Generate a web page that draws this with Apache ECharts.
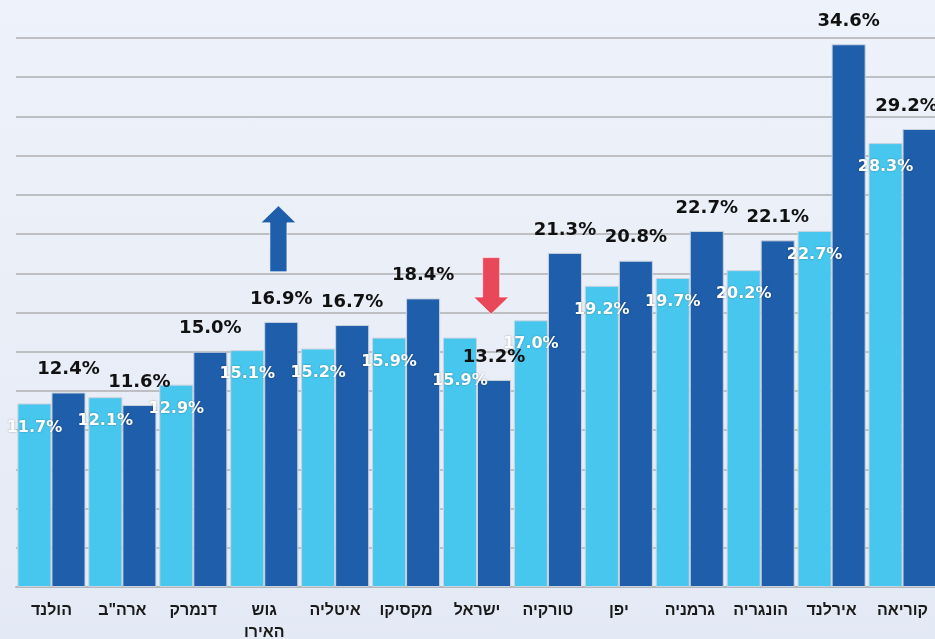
<!DOCTYPE html>
<html>
<head>
<meta charset="utf-8">
<script src="https://cdn.jsdelivr.net/npm/echarts@6/dist/echarts.min.js"></script>
<style>
  html, body { margin: 0; padding: 0; }
  body { background: linear-gradient(180deg, #eef2fa 0%, #e4eaf5 100%); }
  #chart { width: 935px; height: 639px; }
</style>
</head>
<body>
<div id="chart"></div>
<script>
const categories = ["הולנד", "ארה\"ב", "דנמרק", "גוש האירו", "איטליה", "מקסיקו", "ישראל", "טורקיה", "יפן", "גרמניה", "הונגריה", "אירלנד", "קוריאה"];
const lightValues = [11.7, 12.1, 12.9, 15.1, 15.2, 15.9, 15.9, 17.0, 19.2, 19.7, 20.2, 22.7, 28.3];
const darkValues = [12.4, 11.6, 15.0, 16.9, 16.7, 18.4, 13.2, 21.3, 20.8, 22.7, 22.1, 34.6, 29.2];

// annotation arrows: category index, value at tail, value at tip
const arrows = [
  { cat: 3, from: 20.1, to: 24.3, color: "#1f5eab" },
  { cat: 6, from: 21.0, to: 17.4, color: "#e8485a" },
];

const LIGHT = "#48c7ee";
const DARK = "#1f5eab";
const numFont = "'DejaVu Sans', Verdana, sans-serif";
const hebFont = "'Liberation Sans', Arial, sans-serif";

const el = document.getElementById("chart");
const chart = echarts.init(el, null, { renderer: "canvas" });

const option = {
  backgroundColor: "transparent",
  animation: false,
  grid: { left: 16, right: -3, top: 38, bottom: 52, outerBoundsMode: "none", containLabel: false },
  xAxis: {
    type: "category",
    data: categories,
    axisLine: { lineStyle: { color: "#b4b7bd", width: 2 } },
    axisTick: { show: false },
    axisLabel: {
      color: "#1a1a1a",
      fontFamily: hebFont,
      fontWeight: "bold",
      fontSize: 16,
      margin: 13,
      lineHeight: 22,
      interval: 0,
      overflow: "none",
      formatter: (v) => v.replace(" ", "\n"),
    },
  },
  yAxis: {
    type: "value",
    min: 0,
    max: 35,
    interval: 2.5,
    axisLabel: { show: false },
    axisLine: { show: false },
    axisTick: { show: false },
    splitLine: { lineStyle: { color: "#bdbfc3", width: 2 } },
  },
  series: [
    {
      type: "bar",
      data: lightValues.map((v, i) =>
        i === 6 ? { value: v, label: { offset: [0, 19] } } : v
      ),
      barGap: "0%",
      barCategoryGap: "4%",
      itemStyle: { color: LIGHT, borderColor: "#c9d3de", borderWidth: 1 },
      label: {
        show: true,
        position: "insideTop",
        distance: 16,
        color: "#ffffff",
        fontFamily: numFont,
        fontWeight: "bold",
        fontSize: 16,
        textShadowColor: "rgba(0,0,0,0.35)",
        textShadowBlur: 2,
        formatter: (p) => p.value.toFixed(1) + "%",
      },
      z: 2,
    },
    {
      type: "bar",
      data: darkValues.map((v, i) =>
        i === darkValues.length - 1 ? { value: v, label: { offset: [-13, 0] } } : v
      ),
      itemStyle: { color: DARK, borderColor: "#c9d3de", borderWidth: 1 },
      label: {
        show: true,
        position: "top",
        distance: 14,
        color: "#111111",
        fontFamily: numFont,
        fontWeight: "bold",
        fontSize: 18,
        formatter: (p) => p.value.toFixed(1) + "%",
      },
      z: 2,
    },
  ],
};

chart.setOption(option);

function arrowShape(a) {
  const c0 = chart.convertToPixel({ xAxisIndex: 0 }, 0);
  const c1 = chart.convertToPixel({ xAxisIndex: 0 }, 1);
  const band = c1 - c0;
  const cx = chart.convertToPixel({ xAxisIndex: 0 }, a.cat) + band * 0.2;
  const yTail = chart.convertToPixel({ yAxisIndex: 0 }, a.from);
  const yTip = chart.convertToPixel({ yAxisIndex: 0 }, a.to);
  const dir = yTip < yTail ? -1 : 1;
  const headH = 17;
  const shaftW = 8.5;
  const headW = 17.5;
  const yBase = yTip - dir * headH;
  return {
    type: "polygon",
    shape: {
      points: [
        [cx - shaftW, yTail],
        [cx - shaftW, yBase],
        [cx - headW, yBase],
        [cx, yTip],
        [cx + headW, yBase],
        [cx + shaftW, yBase],
        [cx + shaftW, yTail],
      ],
    },
    style: { fill: a.color, stroke: "rgba(255,255,255,0.6)", lineWidth: 1 },
    z: 10,
  };
}

chart.setOption({ graphic: arrows.map(arrowShape) });
</script>
</body>
</html>
